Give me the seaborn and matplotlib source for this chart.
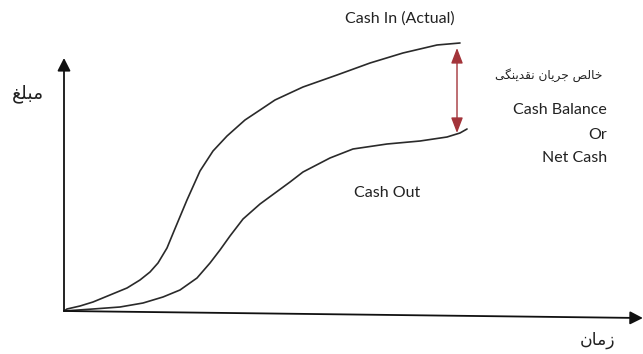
import matplotlib
matplotlib.use("Agg")
import matplotlib.pyplot as plt
import pandas as pd
import seaborn as sns

# Cumulative cash curves: time (0-100) vs amount (0-100)
cash_in_time = [0, 0.52, 2.78, 5.03, 7.99, 10.94, 13.19, 14.93, 16.32, 17.88, 19.10,
                21.35, 23.61, 25.87, 28.30, 31.42, 34.03, 36.63, 39.24, 41.49, 47.40,
                53.13, 58.85, 64.76, 68.75]
cash_in_amount = [0, 0.74, 1.85, 3.33, 5.93, 8.52, 11.48, 14.44, 17.78, 23.33, 29.63,
                  41.11, 51.85, 59.26, 64.81, 70.74, 74.44, 78.15, 80.74, 82.96, 87.41,
                  91.85, 95.56, 98.52, 99.26]
cash_out_time = [0, 5.03, 9.72, 13.72, 17.19, 20.14, 23.09, 25.35, 27.08, 28.82, 31.08,
                 34.03, 36.63, 39.24, 41.49, 46.18, 50.17, 56.08, 61.81, 66.49, 68.75, 69.97]
cash_out_amount = [0, 0.74, 1.48, 2.96, 5.19, 7.78, 12.22, 17.78, 22.59, 27.78, 34.07,
                   39.63, 43.70, 47.78, 51.48, 56.67, 60.00, 61.85, 62.96, 64.44, 65.93, 67.41]

# Net cash gap marker (time, top, bottom)
net_time = 68.23
net_top = 97.41
net_bottom = 65.93

# Labels (Persian text written in shaped presentation forms, visual order)
label_amount = "\uFECE\uFEE0\uFE92\uFEE3"          # مبلغ
label_time = "\uFEE5\uFE8E\uFEE3\uFEAF"            # زمان
label_net_fa = ("\uFEF0\uFB95\uFEE8\uFEF3\uFEAA\uFED8\uFEE7" + " "
                + "\uFEE5\uFE8E\uFEF3\uFEAE\uFE9F" + " "
                + "\uFEBA\uFEDF\uFE8E\uFEA7")       # خالص جریان نقدینگی
label_in = "Cash In (Actual)"
label_out = "Cash Out"
label_net_en = ["Cash Balance", "Or", "Net Cash"]

sns.set_theme(style="white")
plt.rcParams["font.family"] = ["Lato", "DejaVu Sans"]

W, H = 643, 354
fig = plt.figure(figsize=(W / 100, H / 100), dpi=100)
fig.patch.set_facecolor("white")
ax = fig.add_axes([64 / W, 43 / H, 576 / W, 270 / H])
ax.set_xlim(0, 100)
ax.set_ylim(0, 100)
ax.axis("off")

df = pd.concat([
    pd.DataFrame({"time": cash_in_time, "amount": cash_in_amount, "series": label_in}),
    pd.DataFrame({"time": cash_out_time, "amount": cash_out_amount, "series": label_out}),
])
sns.lineplot(data=df, x="time", y="amount", hue="series",
             palette=["#2a2a2a", "#2a2a2a"], estimator=None, sort=False,
             legend=False, lw=1.2, ax=ax, clip_on=False)
for ln in ax.get_lines():
    ln.set_solid_joinstyle("round")

# Axes drawn as arrows
arrow_kw = dict(arrowstyle="-|>,head_length=0.55,head_width=0.28", lw=1.3,
                color="#111111", mutation_scale=14, shrinkA=0, shrinkB=0)
ax.annotate("", xy=(0, 93.7), xytext=(0, 0), arrowprops=arrow_kw, annotation_clip=False)
ax.annotate("", xy=(100.5, -2.6), xytext=(0, 0), arrowprops=arrow_kw, annotation_clip=False)

# Net cash double arrow
ax.annotate("", xy=(net_time, net_top), xytext=(net_time, net_bottom),
            arrowprops=dict(arrowstyle="<|-|>,head_length=0.78,head_width=0.3",
                            lw=1.0, color="#a3343a", mutation_scale=12,
                            shrinkA=0, shrinkB=0),
            annotation_clip=False)

ax.text(58.3, 108.5, label_in, ha="center", va="center", fontsize=11.5, color="#222222")
ax.text(56.1, 43.7, label_out, ha="center", va="center", fontsize=11.5, color="#222222")
for txt, yy in zip(label_net_en, [74.4, 65.2, 56.7]):
    ax.text(94.3, yy, txt, ha="right", va="center", fontsize=11.5, color="#222222")

ax.text(93.4, 87.4, label_net_fa, ha="right", va="center", fontsize=8.7,
        family=["DejaVu Sans"], color="#222222")
ax.text(-6.25, 80.7, label_amount, ha="center", va="center", fontsize=13.5,
        family=["DejaVu Sans"], color="#222222")
ax.text(92.7, -10.7, label_time, ha="center", va="center", fontsize=12.5,
        family=["DejaVu Sans"], color="#222222")

fig.savefig("out.png", dpi=100, facecolor="white")
